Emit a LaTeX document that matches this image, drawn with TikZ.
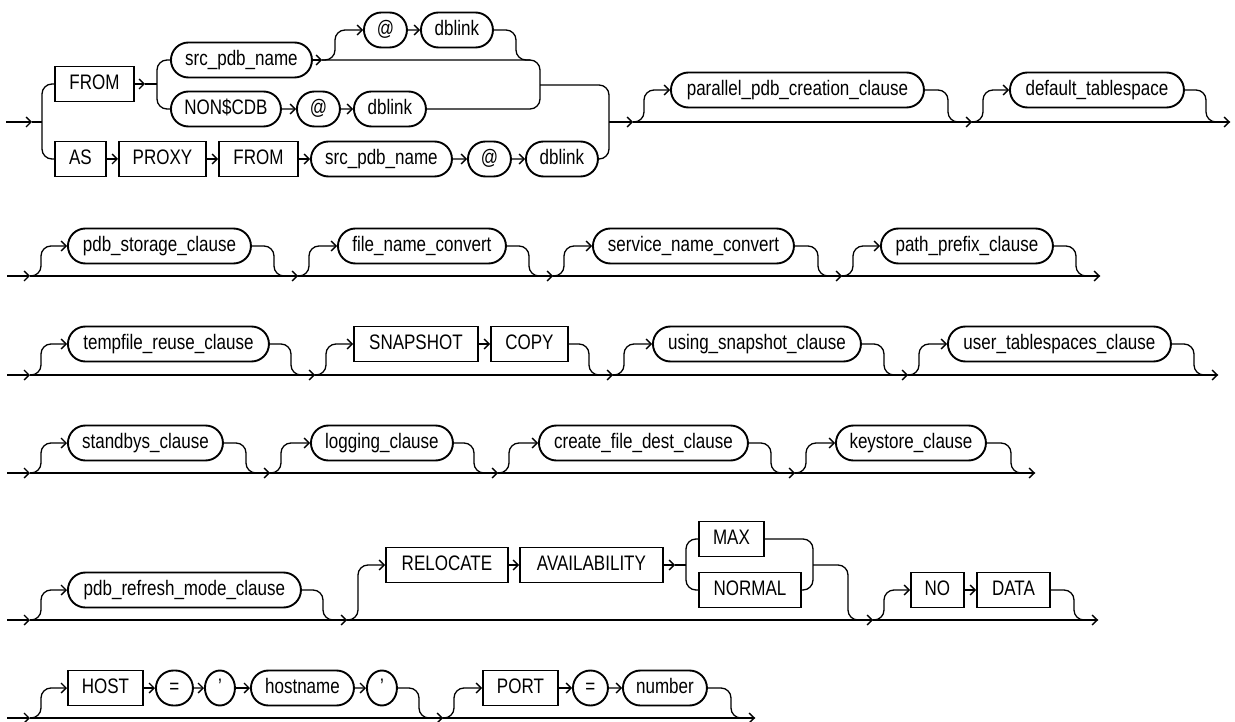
\documentclass[tikz,border=0pt]{standalone}
\usepackage{fontspec}
\setmainfont{Liberation Sans}[FakeStretch=0.81]
\usetikzlibrary{arrows.meta,shapes.misc,shapes.geometric}
\newcommand\optpath[4]{%
  \draw[rc,arr] (#1) -- ++(11,0) |- (#2.west);
  \draw[rc] (#3.east) -| ([xshift=-24pt]#4) -- (#4);
  \draw[line,arr] (#1) -- (#4);}
\begin{document}
\begin{tikzpicture}[x=1pt,y=-1pt,
  line/.style={line width=1.3pt},
  arr/.style={-{Straight Barb[length=5pt,width=10pt]}},
  kw/.style={draw,line width=1.9pt,rectangle,minimum height=35pt,inner sep=0pt,anchor=west,
    font=\fontsize{21}{25}\selectfont,text height=15.5pt,text depth=4pt},
  nt/.style={kw,rounded rectangle},
  el/.style={kw,ellipse},
  rc/.style={line,rounded corners=10pt}]
\useasboundingbox (0,0) rectangle (1235,722);
% ---------- row 1 ----------
\node[kw,minimum width=79pt] (FROM1) at (54,84) {FROM};
\node[nt,minimum width=141pt] (srcA) at (170,60) {src\_pdb\_name};
\node[nt,minimum width=43pt] (at1) at (363,30) {@};
\node[nt,minimum width=72pt] (dbl1) at (420,30) {dblink};
\node[nt,minimum width=110pt] (noncdb) at (170,109) {NON\$CDB};
\node[nt,minimum width=43pt] (at2) at (296,109) {@};
\node[nt,minimum width=72pt] (dbl2) at (353,109) {dblink};
\node[kw,minimum width=51pt] (AS) at (54,159) {AS};
\node[kw,minimum width=87pt] (PROXY) at (118,159) {PROXY};
\node[kw,minimum width=79pt] (FROM2) at (218,159) {FROM};
\node[nt,minimum width=141pt] (srcB) at (310,159) {src\_pdb\_name};
\node[nt,minimum width=43pt] (at3) at (467,159) {@};
\node[nt,minimum width=72pt] (dbl3) at (525,159) {dblink};
\node[nt,minimum width=253pt] (parallel) at (670,90) {parallel\_pdb\_creation\_clause};
\node[nt,minimum width=174pt] (deftbs) at (1009,90) {default\_tablespace};
\coordinate (r1s) at (6,122);
\coordinate (r1a) at (32,122);
\coordinate (r1j) at (42,122);
\coordinate (r1b) at (145,84);
\coordinate (r1c) at (157,84);
\coordinate (r1d) at (322,60);
\coordinate (r1e) at (540,60);
\coordinate (r1f) at (540,109);
\coordinate (r1g) at (540,85);
\coordinate (r1h) at (609,85);
\coordinate (r1i) at (609,122);
\coordinate (r1k) at (633,122);
\coordinate (r1l) at (972,122);
\coordinate (r1m) at (1230,122);
\draw[line,arr] (r1s) -- (r1a);
\draw[line] (r1a) -- (r1j);
\draw[rc] (FROM1.west) -| (r1j) |- (AS.west);
\draw[line,arr] (FROM1.east) -- (r1b);
\draw[line] (r1b) -- (r1c);
\draw[rc] (srcA.west) -| (r1c) |- (noncdb.west);
\draw[line,arr] (srcA.east) -- (r1d);
\draw[rc,arr] (r1d) -- ++(13,0) |- (at1.west);
\draw[line,arr] (at1) -- (dbl1);
\draw[rc] (dbl1.east) -- (516,30) -- (516,60) -- (530,60);
\draw[rc] (r1d) -- (r1e) -- (r1f) -- (dbl2.east);
\draw[line,arr] (noncdb) -- (at2);
\draw[line,arr] (at2) -- (dbl2);
\draw[line,arr] (AS) -- (PROXY);
\draw[line,arr] (PROXY) -- (FROM2);
\draw[line,arr] (FROM2) -- (srcB);
\draw[line,arr] (srcB) -- (at3);
\draw[line,arr] (at3) -- (dbl3);
\draw[rc] (r1g) -- (r1h) |- (dbl3.east);
\draw[line,arr] (r1i) -- (r1k);
\optpath{r1k}{parallel}{parallel}{r1l}
\optpath{r1l}{deftbs}{deftbs}{r1m}
% ---------- row 2 ----------
\node[nt,minimum width=183pt] (pdbstor) at (67,246) {pdb\_storage\_clause};
\node[nt,minimum width=168pt] (filename) at (337,246) {file\_name\_convert};
\node[nt,minimum width=201pt] (service) at (592,246) {service\_name\_convert};
\node[nt,minimum width=172pt] (pathpre) at (880,246) {path\_prefix\_clause};
\coordinate (r2s) at (7,276);
\coordinate (r2a) at (30,276);
\coordinate (r2b) at (298,276);
\coordinate (r2c) at (553,276);
\coordinate (r2d) at (842,276);
\coordinate (r2e) at (1100,276);
\draw[line,arr] (r2s) -- (r2a);
\optpath{r2a}{pdbstor}{pdbstor}{r2b}
\optpath{r2b}{filename}{filename}{r2c}
\optpath{r2c}{service}{service}{r2d}
\optpath{r2d}{pathpre}{pathpre}{r2e}
% ---------- row 3 ----------
\node[nt,minimum width=201pt] (tempfile) at (67,344) {tempfile\_reuse\_clause};
\node[kw,minimum width=124pt] (snap) at (353,344) {SNAPSHOT};
\node[kw,minimum width=77pt] (copy) at (490,344) {COPY};
\node[nt,minimum width=208pt] (using) at (652,344) {using\_snapshot\_clause};
\node[nt,minimum width=223pt] (usertbs) at (947,344) {user\_tablespaces\_clause};
\coordinate (r3s) at (7,375);
\coordinate (r3a) at (30,375);
\coordinate (r3b) at (315,375);
\coordinate (r3c) at (613,375);
\coordinate (r3d) at (908,375);
\coordinate (r3e) at (1218,375);
\draw[line,arr] (r3s) -- (r3a);
\optpath{r3a}{tempfile}{tempfile}{r3b}
\draw[line,arr] (snap) -- (copy);
\optpath{r3b}{snap}{copy}{r3c}
\optpath{r3c}{using}{using}{r3d}
\optpath{r3d}{usertbs}{usertbs}{r3e}
% ---------- row 4 ----------
\node[nt,minimum width=155pt] (standbys) at (67,443) {standbys\_clause};
\node[nt,minimum width=142pt] (logging) at (310,443) {logging\_clause};
\node[nt,minimum width=209pt] (createfile) at (538,443) {create\_file\_dest\_clause};
\node[nt,minimum width=150pt] (keystore) at (835,443) {keystore\_clause};
\coordinate (r4s) at (7,473);
\coordinate (r4a) at (30,473);
\coordinate (r4b) at (270,473);
\coordinate (r4c) at (498,473);
\coordinate (r4d) at (795,473);
\coordinate (r4e) at (1035,473);
\draw[line,arr] (r4s) -- (r4a);
\optpath{r4a}{standbys}{standbys}{r4b}
\optpath{r4b}{logging}{logging}{r4c}
\optpath{r4c}{createfile}{createfile}{r4d}
\optpath{r4d}{keystore}{keystore}{r4e}
% ---------- row 5 ----------
\node[nt,minimum width=233pt] (pdbrefresh) at (67,590) {pdb\_refresh\_mode\_clause};
\node[kw,minimum width=122pt] (reloc) at (385,565) {RELOCATE};
\node[kw,minimum width=143pt] (avail) at (519,565) {AVAILABILITY};
\node[kw,minimum width=65pt] (max) at (698,539) {MAX};
\node[kw,minimum width=102pt] (normal) at (698,590) {NORMAL};
\node[kw,minimum width=53pt] (no) at (910,590) {NO};
\node[kw,minimum width=73pt] (data) at (976,590) {DATA};
\coordinate (r5s) at (7,620);
\coordinate (r5a) at (30,620);
\coordinate (r5b) at (347,620);
\coordinate (r5c) at (675,565);
\coordinate (r5d) at (686,565);
\coordinate (r5e) at (813,565);
\coordinate (r5f) at (873,620);
\coordinate (r5g) at (1098,620);
\draw[line,arr] (r5s) -- (r5a);
\optpath{r5a}{pdbrefresh}{pdbrefresh}{r5b}
\draw[rc,arr] (r5b) -- ++(11,0) |- (reloc.west);
\draw[line,arr] (reloc) -- (avail);
\draw[line,arr] (avail.east) -- (r5c);
\draw[line] (r5c) -- (r5d);
\draw[rc] (max.west) -| (r5d) |- (normal.west);
\draw[rc] (max.east) -| (r5e) |- (normal.east);
\draw[rc] (r5e) -| ([xshift=-25pt]r5f) -- (r5f);
\draw[line,arr] (r5b) -- (r5f);
\draw[line,arr] (no) -- (data);
\optpath{r5f}{no}{data}{r5g}
% ---------- row 6 ----------
\node[kw,minimum width=75pt] (host) at (67,688) {HOST};
\node[nt,minimum width=37pt] (eq1) at (155,688) {=};
\node[el,minimum width=30pt] (q1) at (204,688) {'};
\node[nt,minimum width=103pt] (hostname) at (250,688) {hostname};
\node[el,minimum width=30pt] (q2) at (366,688) {'};
\node[kw,minimum width=75pt] (port) at (482,688) {PORT};
\node[nt,minimum width=35pt] (eq2) at (572,688) {=};
\node[nt,minimum width=84pt] (number) at (622,688) {number};
\coordinate (r6s) at (7,718);
\coordinate (r6a) at (30,718);
\coordinate (r6b) at (443,718);
\coordinate (r6c) at (755,718);
\draw[line,arr] (r6s) -- (r6a);
\draw[line,arr] (host) -- (eq1);
\draw[line,arr] (eq1) -- (q1);
\draw[line,arr] (q1) -- (hostname);
\draw[line,arr] (hostname) -- (q2);
\optpath{r6a}{host}{q2}{r6b}
\draw[line,arr] (port) -- (eq2);
\draw[line,arr] (eq2) -- (number);
\optpath{r6b}{port}{number}{r6c}
\end{tikzpicture}
\end{document}
